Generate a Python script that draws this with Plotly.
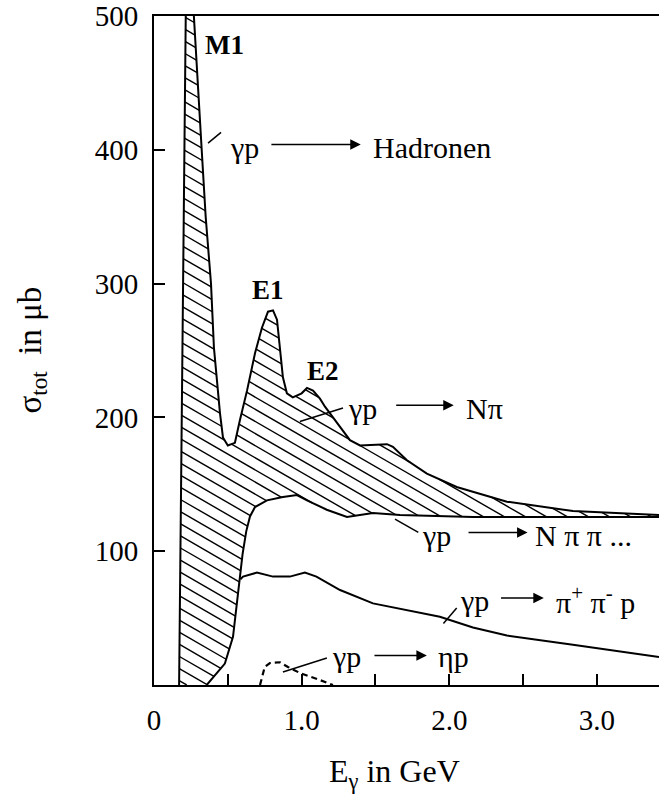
import numpy as np
import plotly.graph_objects as go

# ---------------- data ----------------
# total cross section  gamma p -> Hadronen  (upper edge of hatched band)
tot_x = [0.17, 0.183, 0.196, 0.215, 0.235, 0.262, 0.27, 0.323, 0.35, 0.386, 0.406, 0.447, 0.467,
         0.50, 0.548, 0.582, 0.63, 0.684, 0.731, 0.772, 0.806, 0.833, 0.853, 0.873, 0.90, 0.94,
         1.0, 1.036, 1.077, 1.124, 1.158, 1.26, 1.327, 1.395, 1.578, 1.618, 1.713, 1.848, 2.05,
         2.39, 2.837, 3.42]
tot_y = [0, 150, 300, 500, 545, 510, 500, 400, 350, 300, 252, 203, 185,
         179, 181, 198, 220, 248, 267, 279, 280, 273, 252, 230, 218, 215,
         218, 222, 220, 214, 208, 193, 183, 179, 180, 178, 168, 158, 148,
         137, 130, 127]
# gamma p -> N pi pi ...  (lower edge of hatched band)
npp_x = [0.357, 0.48, 0.535, 0.582, 0.60, 0.625, 0.65, 0.684, 0.765, 0.873, 0.968, 1.036, 1.17,
         1.307, 1.395, 1.483, 1.666, 2.16, 3.42]
npp_y = [0, 16, 36, 78, 98, 115, 126, 133, 138, 140.5, 142, 138, 131,
         125.6, 127, 128.5, 127, 125.6, 125.6]
# gamma p -> pi+ pi- p
ppp_x = [0.585, 0.603, 0.697, 0.806, 0.92, 1.022, 1.10, 1.26, 1.483, 1.713, 1.936, 2.16, 2.39,
         2.837, 3.175, 3.42]
ppp_y = [79, 81, 84, 81, 81, 84, 81, 71, 61, 56, 51, 43, 37, 30, 25, 21]
# gamma p -> eta p
eta_x = [0.718, 0.75, 0.785, 0.853, 0.907, 0.988, 1.124, 1.212]
eta_y = [0, 13.5, 16.4, 17, 13.5, 9, 3.7, 0]

x_tickvals = [0, 0.5, 1.0, 1.5, 2.0, 2.5, 3.0]
x_ticktext = ["0", "", "1.0", "", "2.0", "", "3.0"]
y_tickvals = [100, 200, 300, 400, 500]
y_ticktext = ["100", "200", "300", "400", "500"]

# ---------------- layout constants ----------------
W, H = 659, 796
ML, MR, MT, MB = 154, 0, 16, 111
XR = [0.0, 3.42]
YR = [0.0, 500.0]
FONT = "Liberation Serif"
pxx = (W - ML - MR) / (XR[1] - XR[0])
pxy = (H - MT - MB) / (YR[1] - YR[0])

# ---------------- hatching of the N pi band ----------------
theta = np.deg2rad(30)
spacing = 10.5
xs = np.arange(tot_x[0], tot_x[-1], 0.0005)
up = np.minimum(np.interp(xs, tot_x, tot_y), YR[1])
lo = np.interp(xs, npp_x, npp_y, left=0.0)
Xp = (xs - XR[0]) * pxx
hx, hy = [], []
dc = spacing / np.cos(theta)
for c in np.arange(-(W) * np.tan(theta), H, dc):
    Yl = c + Xp * np.tan(theta)
    yl = YR[1] - Yl / pxy
    m = (yl >= lo) & (yl <= up)
    if not m.any():
        continue
    d = np.diff(np.concatenate(([0], m.astype(int), [0])))
    starts = np.where(d == 1)[0]
    ends = np.where(d == -1)[0] - 1
    for s, e in zip(starts, ends):
        if e <= s:
            continue
        hx += [xs[s], xs[e], None]
        hy += [yl[s], yl[e], None]

fig = go.Figure()
fig.add_trace(go.Scatter(x=hx, y=hy, mode="lines", line=dict(color="black", width=1.4),
                         hoverinfo="skip", showlegend=False))
fig.add_trace(go.Scatter(x=tot_x, y=tot_y, mode="lines", line=dict(color="black", width=2),
                         showlegend=False))
fig.add_trace(go.Scatter(x=npp_x, y=npp_y, mode="lines", line=dict(color="black", width=2),
                         showlegend=False))
fig.add_trace(go.Scatter(x=ppp_x, y=ppp_y, mode="lines", line=dict(color="black", width=2),
                         showlegend=False))
fig.add_trace(go.Scatter(x=eta_x, y=eta_y, mode="lines",
                         line=dict(color="black", width=2.2, dash="6px,4px"), showlegend=False))

annots = []
def txt(x, y, s, size=30, bold=False):
    if bold:
        s = "<b>" + s + "</b>"
    annots.append(dict(x=x, y=y, xref="x", yref="y", text=s, showarrow=False,
                       xanchor="left", yanchor="middle",
                       font=dict(family=FONT, size=size, color="black")))

def arrow(x_tail, x_head, y):
    annots.append(dict(x=x_head, y=y, ax=x_tail, ay=y, xref="x", yref="y",
                       axref="x", ayref="y", text="", showarrow=True,
                       arrowhead=2, arrowsize=1.4, arrowwidth=1.5, arrowcolor="black",
                       standoff=0, startstandoff=0))

# peak labels
txt(0.33, 478, "M1", size=27, bold=True)
txt(0.65, 295, "E1", size=27, bold=True)
txt(1.02, 235, "E2", size=27, bold=True)

# reaction labels
txt(0.50, 402, "γp")
arrow(0.785, 1.40, 404)
txt(1.47, 402, "Hadronen")

txt(1.30, 207, "γp")
arrow(1.63, 2.03, 209)
txt(2.10, 207, "Nπ")

txt(1.80, 112, "γp")
arrow(2.12, 2.53, 114)
txt(2.57, 112, "N π π ...")

txt(2.06, 63.5, "γp")
arrow(2.34, 2.64, 65)
txt(2.71, 63.5, "π<sup>+</sup> π<sup>-</sup> p")

txt(1.19, 21, "γp")
arrow(1.483, 1.848, 22)
txt(1.91, 21, "ηp")

# axis titles
annots.append(dict(x=0.5, y=0, xref="paper", yref="paper", xanchor="center", yanchor="middle",
                   xshift=-12, yshift=-88, showarrow=False, text="E<sub>γ</sub> in GeV",
                   font=dict(family=FONT, size=32, color="black")))
annots.append(dict(x=0, y=0.5, xref="paper", yref="paper", xanchor="center", yanchor="middle",
                   xshift=-122, showarrow=False, textangle=-90, text="σ<sub>tot</sub>  in μb",
                   font=dict(family=FONT, size=33, color="black")))

# leader lines
shapes = []
def lead(x0, y0, x1, y1):
    shapes.append(dict(type="line", xref="x", yref="y", x0=x0, y0=y0, x1=x1, y1=y1,
                       line=dict(color="black", width=1.5)))
lead(0.366, 405, 0.454, 413)
lead(0.988, 197, 1.28, 207)
lead(1.632, 124, 1.79, 114)
lead(1.96, 46, 2.05, 57.5)
lead(0.873, 9.7, 1.171, 20.2)

fig.update_layout(
    width=W, height=H, margin=dict(l=ML, r=MR, t=MT, b=MB),
    paper_bgcolor="white", plot_bgcolor="white",
    annotations=annots, shapes=shapes, showlegend=False,
    xaxis=dict(range=XR, showgrid=False, zeroline=False, showline=True, linecolor="black",
               linewidth=2, mirror=True, ticks="inside", ticklen=11, tickwidth=1.5,
               tickcolor="black", tickvals=x_tickvals, ticktext=x_ticktext,
               tickfont=dict(family=FONT, size=29, color="black"), ticklabelstandoff=8),
    yaxis=dict(range=YR, showgrid=False, zeroline=False, showline=True, linecolor="black",
               linewidth=2, mirror=False, ticks="inside", ticklen=11, tickwidth=1.5,
               tickcolor="black", tickvals=y_tickvals, ticktext=y_ticktext,
               tickfont=dict(family=FONT, size=29, color="black"), ticklabelstandoff=8),
)

fig.write_html("out.html")
